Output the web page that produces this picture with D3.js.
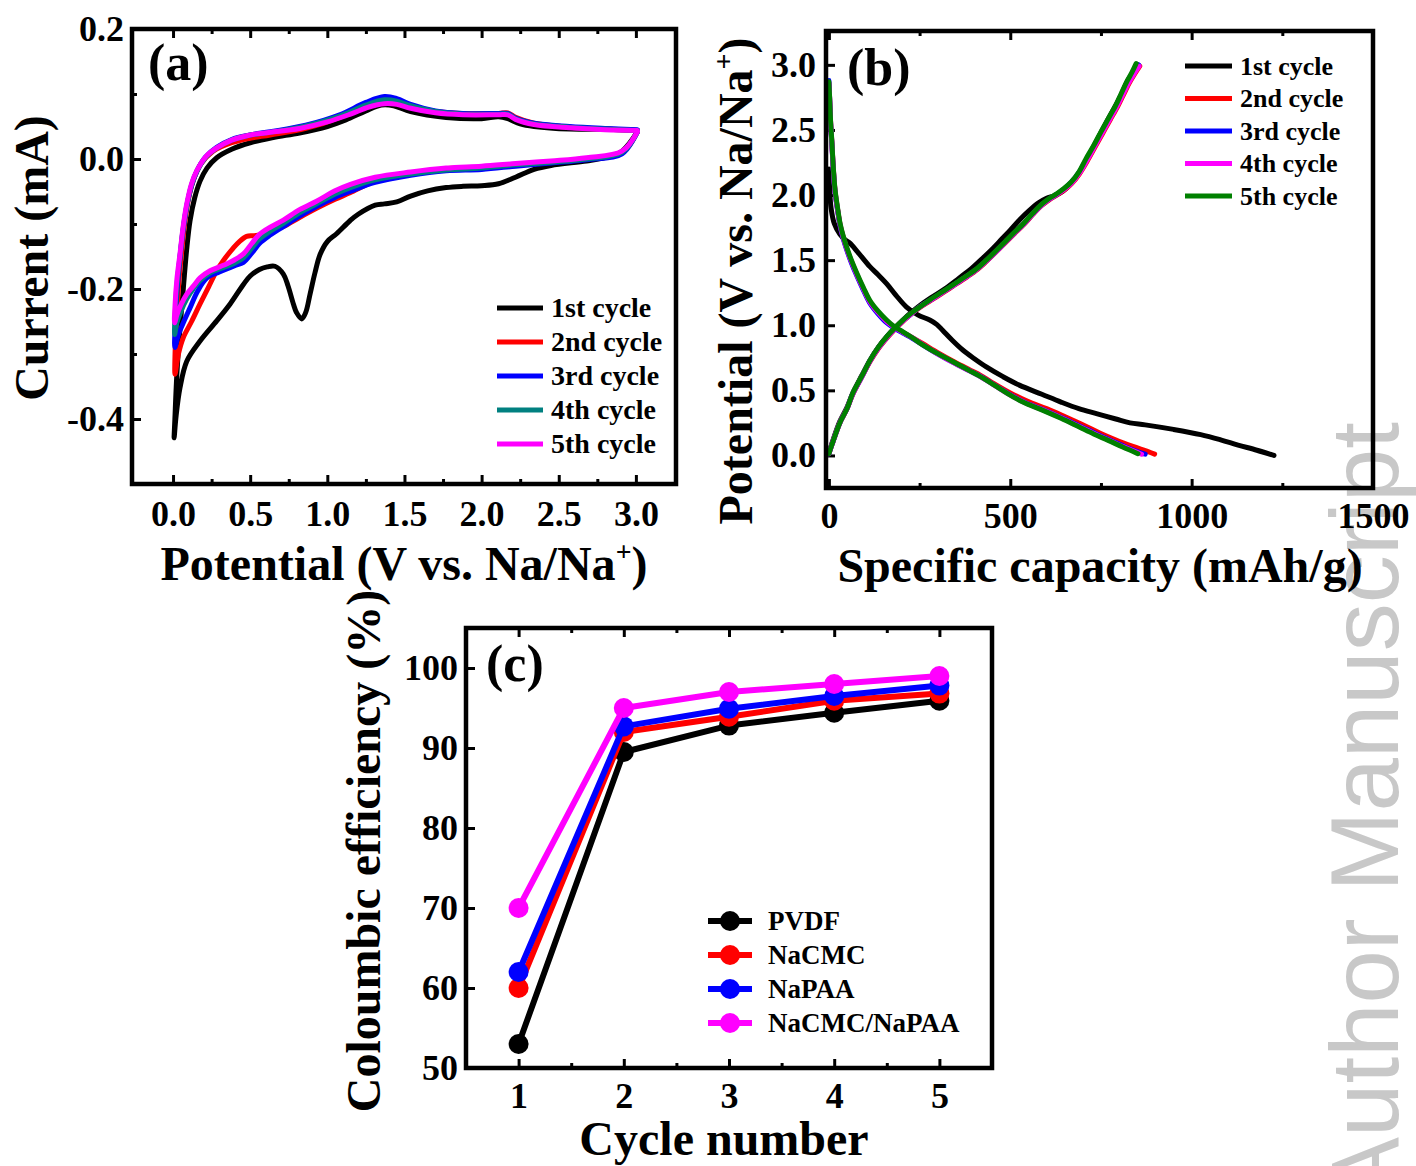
<!DOCTYPE html>
<html><head><meta charset="utf-8">
<script src="https://cdn.jsdelivr.net/npm/d3@7/dist/d3.min.js"></script>
<style>body{margin:0;background:#fff}svg{display:block}</style>
</head><body>
<script>
// ---------------- DATA ----------------
// (a) Cyclic voltammetry: [potential V, current mA]
const cvCycleNames = ["1st cycle","2nd cycle","3rd cycle","4th cycle","5th cycle"];
const cvColors = ["#000000","#ff0000","#0000ff","#008080","#ff00ff"];
const cv1Cathodic = [[3.01,0.042],[2.91,0.012],[2.80,0.002],[2.68,-0.003],[2.45,-0.010],[2.34,-0.016],[2.22,-0.028],[2.11,-0.038],[2.0,-0.041],[1.88,-0.042],[1.77,-0.044],[1.65,-0.049],[1.54,-0.057],[1.45,-0.066],[1.37,-0.069],[1.31,-0.071],[1.20,-0.085],[1.147,-0.095],[1.06,-0.115],[1.0,-0.127],[0.953,-0.147],[0.92,-0.175],[0.888,-0.208],[0.86,-0.236],[0.834,-0.246],[0.80,-0.236],[0.78,-0.223],[0.745,-0.195],[0.715,-0.177],[0.66,-0.165],[0.61,-0.166],[0.56,-0.170],[0.50,-0.180],[0.456,-0.193],[0.37,-0.223],[0.283,-0.249],[0.175,-0.280],[0.089,-0.311],[0.045,-0.352],[0.02,-0.395],[0.007,-0.429]];
const cv1Anodic = [[0.012,-0.40],[0.025,-0.33],[0.045,-0.26],[0.067,-0.198],[0.088,-0.14],[0.11,-0.095],[0.14,-0.060],[0.175,-0.034],[0.22,-0.014],[0.283,0.002],[0.38,0.015],[0.50,0.025],[0.65,0.033],[0.82,0.040],[1.0,0.050],[1.12,0.060],[1.25,0.074],[1.35,0.083],[1.43,0.082],[1.54,0.073],[1.77,0.064],[2.0,0.062],[2.11,0.065],[2.17,0.062],[2.25,0.054],[2.34,0.050],[2.57,0.046],[2.80,0.046],[3.01,0.044]];
const cv2Cathodic = [[3.01,0.042],[2.91,0.010],[2.68,0.0],[2.45,-0.005],[2.22,-0.010],[2.0,-0.013],[1.77,-0.015],[1.54,-0.023],[1.31,-0.034],[1.147,-0.052],[1.05,-0.062],[0.93,-0.076],[0.82,-0.090],[0.715,-0.104],[0.63,-0.112],[0.585,-0.116],[0.52,-0.118],[0.477,-0.119],[0.43,-0.127],[0.39,-0.137],[0.33,-0.155],[0.283,-0.172],[0.23,-0.197],[0.175,-0.223],[0.12,-0.250],[0.066,-0.275],[0.035,-0.300],[0.013,-0.331]];
const cv2Anodic = [[0.013,-0.30],[0.025,-0.24],[0.035,-0.198],[0.055,-0.145],[0.078,-0.095],[0.10,-0.062],[0.13,-0.034],[0.18,-0.008],[0.26,0.012],[0.38,0.025],[0.50,0.032],[0.63,0.037],[0.86,0.047],[1.08,0.064],[1.25,0.084],[1.37,0.092],[1.45,0.090],[1.54,0.082],[1.70,0.073],[1.88,0.070],[2.11,0.070],[2.17,0.071],[2.22,0.064],[2.34,0.055],[2.57,0.049],[2.80,0.046],[3.01,0.044]];
const cv3Cathodic = [[3.01,0.042],[2.91,0.008],[2.68,-0.001],[2.45,-0.006],[2.22,-0.011],[2.0,-0.016],[1.77,-0.018],[1.54,-0.025],[1.31,-0.036],[1.147,-0.050],[1.05,-0.059],[0.93,-0.073],[0.82,-0.088],[0.715,-0.104],[0.63,-0.117],[0.56,-0.130],[0.51,-0.145],[0.456,-0.159],[0.40,-0.164],[0.348,-0.169],[0.30,-0.174],[0.22,-0.183],[0.16,-0.203],[0.11,-0.229],[0.07,-0.250],[0.035,-0.270],[0.012,-0.29]];
const cv3Anodic = [[0.013,-0.26],[0.025,-0.205],[0.045,-0.152],[0.065,-0.110],[0.089,-0.073],[0.12,-0.041],[0.154,-0.019],[0.21,0.003],[0.283,0.018],[0.38,0.030],[0.50,0.037],[0.63,0.042],[0.86,0.052],[1.08,0.068],[1.25,0.087],[1.37,0.096],[1.45,0.093],[1.54,0.084],[1.70,0.074],[1.88,0.070],[2.11,0.070],[2.17,0.070],[2.22,0.063],[2.34,0.055],[2.57,0.050],[2.80,0.047],[3.01,0.045]];
const cv4Cathodic = [[3.01,0.042],[2.91,0.010],[2.68,0.0],[2.45,-0.005],[2.22,-0.009],[2.0,-0.014],[1.77,-0.017],[1.54,-0.023],[1.31,-0.032],[1.15,-0.044],[1.05,-0.054],[0.93,-0.069],[0.82,-0.083],[0.715,-0.099],[0.63,-0.111],[0.56,-0.123],[0.51,-0.137],[0.456,-0.152],[0.40,-0.160],[0.35,-0.165],[0.30,-0.169],[0.24,-0.175],[0.175,-0.187],[0.13,-0.200],[0.089,-0.215],[0.05,-0.235],[0.025,-0.252],[0.01,-0.27]];
const cv4Anodic = [[0.013,-0.245],[0.025,-0.195],[0.045,-0.150],[0.065,-0.108],[0.089,-0.072],[0.12,-0.040],[0.154,-0.019],[0.21,0.002],[0.283,0.017],[0.38,0.029],[0.50,0.037],[0.63,0.041],[0.86,0.051],[1.08,0.066],[1.25,0.083],[1.37,0.091],[1.45,0.089],[1.54,0.082],[1.70,0.073],[1.88,0.069],[2.11,0.069],[2.17,0.069],[2.22,0.062],[2.34,0.054],[2.57,0.049],[2.80,0.046],[3.01,0.044]];
const cv5Cathodic = [[3.01,0.042],[2.91,0.012],[2.68,0.002],[2.45,-0.003],[2.22,-0.007],[2.0,-0.011],[1.77,-0.014],[1.54,-0.020],[1.31,-0.028],[1.15,-0.039],[1.05,-0.049],[0.93,-0.065],[0.82,-0.078],[0.715,-0.094],[0.63,-0.105],[0.56,-0.116],[0.51,-0.130],[0.456,-0.146],[0.40,-0.155],[0.35,-0.161],[0.30,-0.166],[0.24,-0.172],[0.175,-0.183],[0.13,-0.196],[0.089,-0.208],[0.05,-0.225],[0.025,-0.240],[0.01,-0.252]];
const cv5Anodic = [[0.013,-0.225],[0.025,-0.185],[0.045,-0.146],[0.065,-0.105],[0.089,-0.069],[0.12,-0.038],[0.154,-0.018],[0.21,0.003],[0.283,0.017],[0.38,0.029],[0.50,0.037],[0.63,0.041],[0.82,0.047],[1.0,0.057],[1.15,0.069],[1.27,0.080],[1.37,0.085],[1.45,0.084],[1.54,0.078],[1.70,0.071],[1.88,0.068],[2.11,0.068],[2.17,0.068],[2.22,0.061],[2.34,0.053],[2.57,0.048],[2.80,0.045],[3.01,0.044]];
const cvXTicks = [0,0.5,1.0,1.5,2.0,2.5,3.0];
const cvYTicks = [-0.4,-0.2,0.0,0.2];

// (b) Charge/discharge: [capacity mAh/g, potential V]
const gcdCycleNames = ["1st cycle","2nd cycle","3rd cycle","4th cycle","5th cycle"];
const gcdColors = ["#000000","#ff0000","#0000ff","#ff00ff","#008000"];
const gcd1Discharge = [[0,2.2],[2,2.05],[6,1.9],[15,1.78],[30,1.7],[45,1.655],[58,1.63],[80,1.56],[113,1.45],[135,1.39],[159,1.32],[185,1.23],[214,1.14],[245,1.08],[278,1.04],[298,1.005],[314,0.96],[340,0.885],[369,0.81],[400,0.745],[434,0.68],[480,0.605],[525,0.54],[587,0.47],[640,0.41],[689,0.36],[740,0.32],[791,0.28],[830,0.25],[872,0.235],[950,0.20],[1025,0.16],[1080,0.12],[1128,0.08],[1180,0.04],[1227,0.0]];
const gcd1Charge = [[0,0.02],[8,0.09],[30,0.26],[50,0.37],[66,0.48],[90,0.61],[113,0.73],[136,0.83],[159,0.91],[182,0.98],[204,1.04],[228,1.10],[250,1.15],[281,1.21],[320,1.28],[358,1.36],[395,1.44],[426,1.52],[452,1.59],[476,1.66],[500,1.73],[526,1.81],[552,1.88],[578,1.94],[600,1.975],[622,1.995],[645,2.03],[668,2.09],[690,2.17],[710,2.27],[731,2.38],[752,2.49],[773,2.60],[793,2.70],[809,2.79],[824,2.88],[840,2.95],[852,3.0]];
const gcd2Discharge = [[0,2.86],[2,2.74],[5,2.54],[8,2.41],[12,2.21],[17,2.03],[24,1.89],[31,1.77],[40,1.67],[49,1.59],[62,1.49],[77,1.39],[95,1.28],[113,1.18],[135,1.10],[159,1.03],[180,0.985],[204,0.945],[230,0.905],[258,0.86],[300,0.79],[345,0.72],[390,0.655],[418,0.615],[450,0.56],[500,0.48],[548,0.415],[600,0.36],[653,0.295],[704,0.23],[748,0.17],[790,0.12],[838,0.07],[880,0.03],[898,0.01]];
const gcd2Charge = [[0,0.015],[8,0.08],[30,0.25],[50,0.36],[66,0.47],[90,0.60],[113,0.72],[136,0.82],[159,0.90],[182,0.97],[204,1.03],[228,1.09],[250,1.135],[281,1.19],[320,1.26],[342,1.30],[380,1.37],[410,1.43],[434,1.49],[460,1.56],[485,1.63],[510,1.70],[536,1.77],[562,1.85],[587,1.92],[608,1.965],[628,2.0],[650,2.04],[670,2.09],[690,2.16],[712,2.26],[734,2.37],[755,2.475],[776,2.58],[796,2.68],[812,2.77],[828,2.86],[843,2.93],[857,2.99]];
const gcd3Discharge = [[0,2.88],[2,2.74],[5,2.53],[8,2.40],[12,2.20],[17,2.02],[24,1.88],[31,1.76],[40,1.66],[49,1.58],[62,1.48],[77,1.38],[95,1.27],[113,1.17],[135,1.09],[159,1.02],[180,0.978],[204,0.94],[230,0.90],[255,0.856],[297,0.785],[342,0.715],[388,0.65],[416,0.61],[448,0.555],[495,0.475],[540,0.408],[592,0.35],[646,0.285],[696,0.22],[738,0.165],[778,0.115],[822,0.06],[860,0.02],[872,0.01]];
const gcd3Charge = [[0,0.013],[8,0.08],[30,0.25],[50,0.36],[66,0.475],[90,0.60],[113,0.725],[136,0.825],[159,0.905],[182,0.975],[204,1.035],[228,1.09],[250,1.14],[281,1.195],[320,1.265],[342,1.305],[380,1.375],[410,1.435],[434,1.495],[460,1.565],[485,1.635],[510,1.705],[536,1.775],[562,1.855],[587,1.925],[608,1.97],[628,2.005],[648,2.045],[669,2.10],[690,2.175],[710,2.27],[731,2.375],[752,2.48],[773,2.585],[793,2.685],[809,2.775],[824,2.865],[840,2.935],[854,3.0]];
const gcd4Discharge = [[0,2.86],[2,2.74],[5,2.54],[8,2.41],[12,2.21],[17,2.03],[24,1.89],[31,1.77],[40,1.67],[49,1.59],[62,1.49],[77,1.39],[95,1.28],[113,1.18],[135,1.10],[159,1.03],[180,0.985],[204,0.945],[230,0.905],[255,0.858],[296,0.787],[341,0.717],[386,0.652],[414,0.612],[446,0.557],[492,0.477],[538,0.408],[590,0.35],[643,0.285],[692,0.22],[734,0.165],[774,0.115],[816,0.062],[850,0.025],[862,0.01]];
const gcd4Charge = [[0,0.013],[8,0.08],[30,0.25],[50,0.36],[66,0.475],[90,0.60],[113,0.725],[136,0.825],[159,0.905],[182,0.975],[204,1.035],[228,1.09],[250,1.14],[281,1.195],[320,1.265],[342,1.305],[380,1.375],[410,1.435],[434,1.495],[460,1.565],[485,1.635],[510,1.705],[536,1.775],[562,1.855],[587,1.925],[608,1.97],[628,2.005],[649,2.045],[670,2.095],[691,2.17],[711,2.265],[732,2.37],[753,2.475],[774,2.58],[794,2.68],[810,2.77],[826,2.86],[841,2.93],[855,2.99]];
const gcd5Discharge = [[0,2.87],[2,2.75],[5,2.55],[8,2.42],[12,2.22],[17,2.04],[24,1.90],[31,1.78],[40,1.68],[49,1.60],[62,1.50],[77,1.40],[95,1.29],[113,1.19],[135,1.11],[159,1.04],[180,0.99],[204,0.95],[227,0.91],[250,0.865],[295,0.79],[342,0.72],[385,0.655],[412,0.615],[445,0.56],[490,0.48],[535,0.41],[587,0.35],[640,0.285],[689,0.22],[730,0.165],[770,0.116],[810,0.065],[843,0.025],[852,0.013]];
const gcd5Charge = [[0,0.013],[8,0.08],[30,0.25],[50,0.36],[66,0.48],[90,0.605],[113,0.73],[136,0.83],[159,0.91],[182,0.98],[204,1.04],[228,1.095],[250,1.14],[281,1.20],[320,1.27],[342,1.31],[380,1.38],[410,1.44],[434,1.50],[460,1.57],[485,1.64],[510,1.71],[536,1.78],[562,1.86],[587,1.93],[608,1.975],[628,2.01],[648,2.05],[668,2.10],[690,2.18],[709,2.28],[730,2.38],[750,2.485],[771,2.59],[791,2.69],[806,2.78],[821,2.87],[835,2.94],[847,3.01]];
const gcdXTicks = [0,500,1000,1500];
const gcdYTicks = [0.0,0.5,1.0,1.5,2.0,2.5,3.0];

// (c) Coulombic efficiency
const ceCycles = [1,2,3,4,5];
const ceNames = ["PVDF","NaCMC","NaPAA","NaCMC/NaPAA"];
const ceColors = ["#000000","#ff0000","#0000ff","#ff00ff"];
const cePVDF = [53.0,89.5,92.8,94.4,95.9];
const ceNaCMC = [60.0,92.0,93.9,95.9,96.8];
const ceNaPAA = [62.0,92.7,94.9,96.5,97.8];
const ceBlend = [70.0,95.0,97.0,98.0,99.0];
const ceYTicks = [50,60,70,80,90,100];

// ---------------- DRAW ----------------
const FONT = "'Liberation Serif','Times New Roman',Times,serif";
const svg = d3.select("body").append("svg").attr("width",1416).attr("height",1166);
svg.append("rect").attr("width",1416).attr("height",1166).attr("fill","#fff");

// watermark (behind)
svg.append("text").text("Author Manuscript")
  .attr("transform","translate(1398,422) rotate(-90)")
  .attr("text-anchor","end")
  .attr("font-family","'Liberation Sans',Arial,sans-serif")
  .attr("font-size",96).attr("fill","#c8c8c8");

const fmt1 = v => d3.format(".1f")(v).replace("\u2212","-");

function panel(x, y, o) {
  const g = svg.append("g");
  const [x0,x1] = x.range(), [y1,y0] = y.range();
  const styleAxis = sel => {
    sel.select(".domain").remove();
    sel.selectAll(".tick line").attr("stroke","#000").attr("stroke-width",3);
    sel.selectAll(".tick text").attr("font-family",FONT).attr("font-weight","bold")
      .attr("font-size",o.tickFont).attr("fill","#000");
  };
  if (o.xMinor) {
    g.append("g").attr("transform",`translate(0,${y1})`)
      .call(d3.axisBottom(x).tickValues(o.xMinor).tickSize(-5).tickFormat("")).call(styleAxis);
    g.append("g").attr("transform",`translate(0,${y0})`)
      .call(d3.axisTop(x).tickValues(o.xMinor).tickSize(-5).tickFormat("")).call(styleAxis);
  }
  g.append("g").attr("transform",`translate(0,${y1})`)
    .call(d3.axisBottom(x).tickValues(o.xTicks).tickSize(-9).tickPadding(o.xPad).tickFormat(o.xFmt)).call(styleAxis);
  g.append("g").attr("transform",`translate(0,${y0})`)
    .call(d3.axisTop(x).tickValues(o.xTicks).tickSize(-9).tickFormat("")).call(styleAxis);
  if (o.yMinor) {
    g.append("g").attr("transform",`translate(${x0},0)`)
      .call(d3.axisLeft(y).tickValues(o.yMinor).tickSize(-5).tickFormat("")).call(styleAxis);
  }
  g.append("g").attr("transform",`translate(${x0},0)`)
    .call(d3.axisLeft(y).tickValues(o.yTicks).tickSize(-9).tickPadding(o.yPad).tickFormat(o.yFmt)).call(styleAxis);
  return g;
}
function frame(x, y) {
  const [x0,x1] = x.range(), [y1,y0] = y.range();
  svg.append("rect").attr("x",x0).attr("y",y0).attr("width",x1-x0).attr("height",y1-y0)
    .attr("fill","none").attr("stroke","#000").attr("stroke-width",4.5);
}
function txt(s, x, y, size, anchor, rot) {
  const t = svg.append("text").attr("font-family",FONT).attr("font-weight","bold")
    .attr("font-size",size).attr("fill","#000").attr("text-anchor",anchor||"start");
  if (rot) t.attr("transform",`translate(${x},${y}) rotate(${rot})`);
  else t.attr("x",x).attr("y",y);
  t.text(s);
  return t;
}
function supTitle(main, sup, tail, x, y, size, rot) {
  const t = svg.append("text").attr("font-family",FONT).attr("font-weight","bold")
    .attr("font-size",size).attr("fill","#000").attr("text-anchor","middle");
  if (rot) t.attr("transform",`translate(${x},${y}) rotate(${rot})`); else t.attr("x",x).attr("y",y);
  t.append("tspan").text(main);
  t.append("tspan").text(sup).attr("font-size",size*0.58).attr("dy",-size*0.4);
  t.append("tspan").text(tail).attr("dy",size*0.4);
}

// ----- Panel (a)
const xA = d3.scaleLinear([-0.266,3.26],[132,676]);
const yA = d3.scaleLinear([-0.5,0.2],[484,29]);
panel(xA,yA,{xTicks:cvXTicks,xMinor:[0.25,0.75,1.25,1.75,2.25,2.75],xPad:16,xFmt:fmt1,
  yTicks:cvYTicks,yMinor:[-0.3,-0.1,0.1],yPad:8,yFmt:fmt1,tickFont:36});
const lineA = d3.line().x(d=>xA(d[0])).y(d=>yA(d[1])).curve(d3.curveCatmullRom.alpha(0.5));
const cvData = [cv1Cathodic.concat(cv1Anodic),cv2Cathodic.concat(cv2Anodic),cv3Cathodic.concat(cv3Anodic),
  cv4Cathodic.concat(cv4Anodic),cv5Cathodic.concat(cv5Anodic)];
cvData.forEach((d,i)=>svg.append("path").attr("d",lineA(d)).attr("fill","none")
  .attr("stroke",cvColors[i]).attr("stroke-width",5).attr("stroke-linejoin","round").attr("stroke-linecap","round"));
frame(xA,yA);
txt("(a)",148,80,52);
cvCycleNames.forEach((n,i)=>{
  const yy = 308 + i*34;
  svg.append("line").attr("x1",497).attr("x2",543).attr("y1",yy).attr("y2",yy).attr("stroke",cvColors[i]).attr("stroke-width",5);
  txt(n,551,yy,28).attr("dy","0.33em");
});
txt("Current (mA)",48,258,48,"middle",-90);
supTitle("Potential (V vs. Na/Na","+",")",404,580,48);

// ----- Panel (b)
const xB = d3.scaleLinear([-8,1500],[826,1373]);
const yB = d3.scaleLinear([-0.25,3.26],[488,31]);
panel(xB,yB,{xTicks:gcdXTicks,xMinor:[250,750,1250],xPad:14,xFmt:d3.format("d"),
  yTicks:gcdYTicks,yPad:10,yFmt:fmt1,tickFont:36});
const lineB = d3.line().x(d=>xB(d[0])).y(d=>yB(d[1])).curve(d3.curveCatmullRom.alpha(0.5));
const gcdData = [[gcd1Discharge,gcd1Charge],[gcd2Discharge,gcd2Charge],[gcd3Discharge,gcd3Charge],
  [gcd4Discharge,gcd4Charge],[gcd5Discharge,gcd5Charge]];
gcdData.forEach((pair,i)=>pair.forEach(d=>svg.append("path").attr("d",lineB(d)).attr("fill","none")
  .attr("stroke",gcdColors[i]).attr("stroke-width",5).attr("stroke-linejoin","round").attr("stroke-linecap","round")));
frame(xB,yB);
txt("(b)",847,85,52);
gcdCycleNames.forEach((n,i)=>{
  const yy = 66 + i*32.5;
  svg.append("line").attr("x1",1185).attr("x2",1232).attr("y1",yy).attr("y2",yy).attr("stroke",gcdColors[i]).attr("stroke-width",5);
  txt(n,1240,yy,26).attr("dy","0.33em");
});
supTitle("Potential (V vs. Na/Na","+",")",752,281,48,-90);
txt("Specific capacity (mAh/g)",1100,582,48,"middle");

// ----- Panel (c)
const xC = d3.scaleLinear([0.5,5.5],[466,992]);
const yC = d3.scaleLinear([50,105],[1068,628]);
panel(xC,yC,{xTicks:ceCycles,xMinor:[1.5,2.5,3.5,4.5],xPad:14,xFmt:d3.format("d"),
  yTicks:ceYTicks,yPad:8,yFmt:d3.format("d"),tickFont:36});
const ceData = [cePVDF,ceNaCMC,ceNaPAA,ceBlend];
const lineC = d3.line().x((d,i)=>xC(ceCycles[i])).y(d=>yC(d));
ceData.forEach((d,i)=>{
  svg.append("path").attr("d",lineC(d)).attr("fill","none").attr("stroke",ceColors[i]).attr("stroke-width",6).attr("stroke-linejoin","round");
  svg.append("g").selectAll("circle").data(d).join("circle")
    .attr("cx",(v,j)=>xC(ceCycles[j])).attr("cy",v=>yC(v)).attr("r",10).attr("fill",ceColors[i]);
});
frame(xC,yC);
txt("(c)",486,681,52);
ceNames.forEach((n,i)=>{
  const yy = 921 + i*34;
  svg.append("line").attr("x1",708).attr("x2",752).attr("y1",yy).attr("y2",yy).attr("stroke",ceColors[i]).attr("stroke-width",6);
  svg.append("circle").attr("cx",730).attr("cy",yy).attr("r",10).attr("fill",ceColors[i]);
  txt(n,768,yy,27).attr("dy","0.33em");
});
txt("Coloumbic efficiency (%)",380,851,48,"middle",-90);
txt("Cycle number",724,1155,48,"middle");
</script>
</body></html>
